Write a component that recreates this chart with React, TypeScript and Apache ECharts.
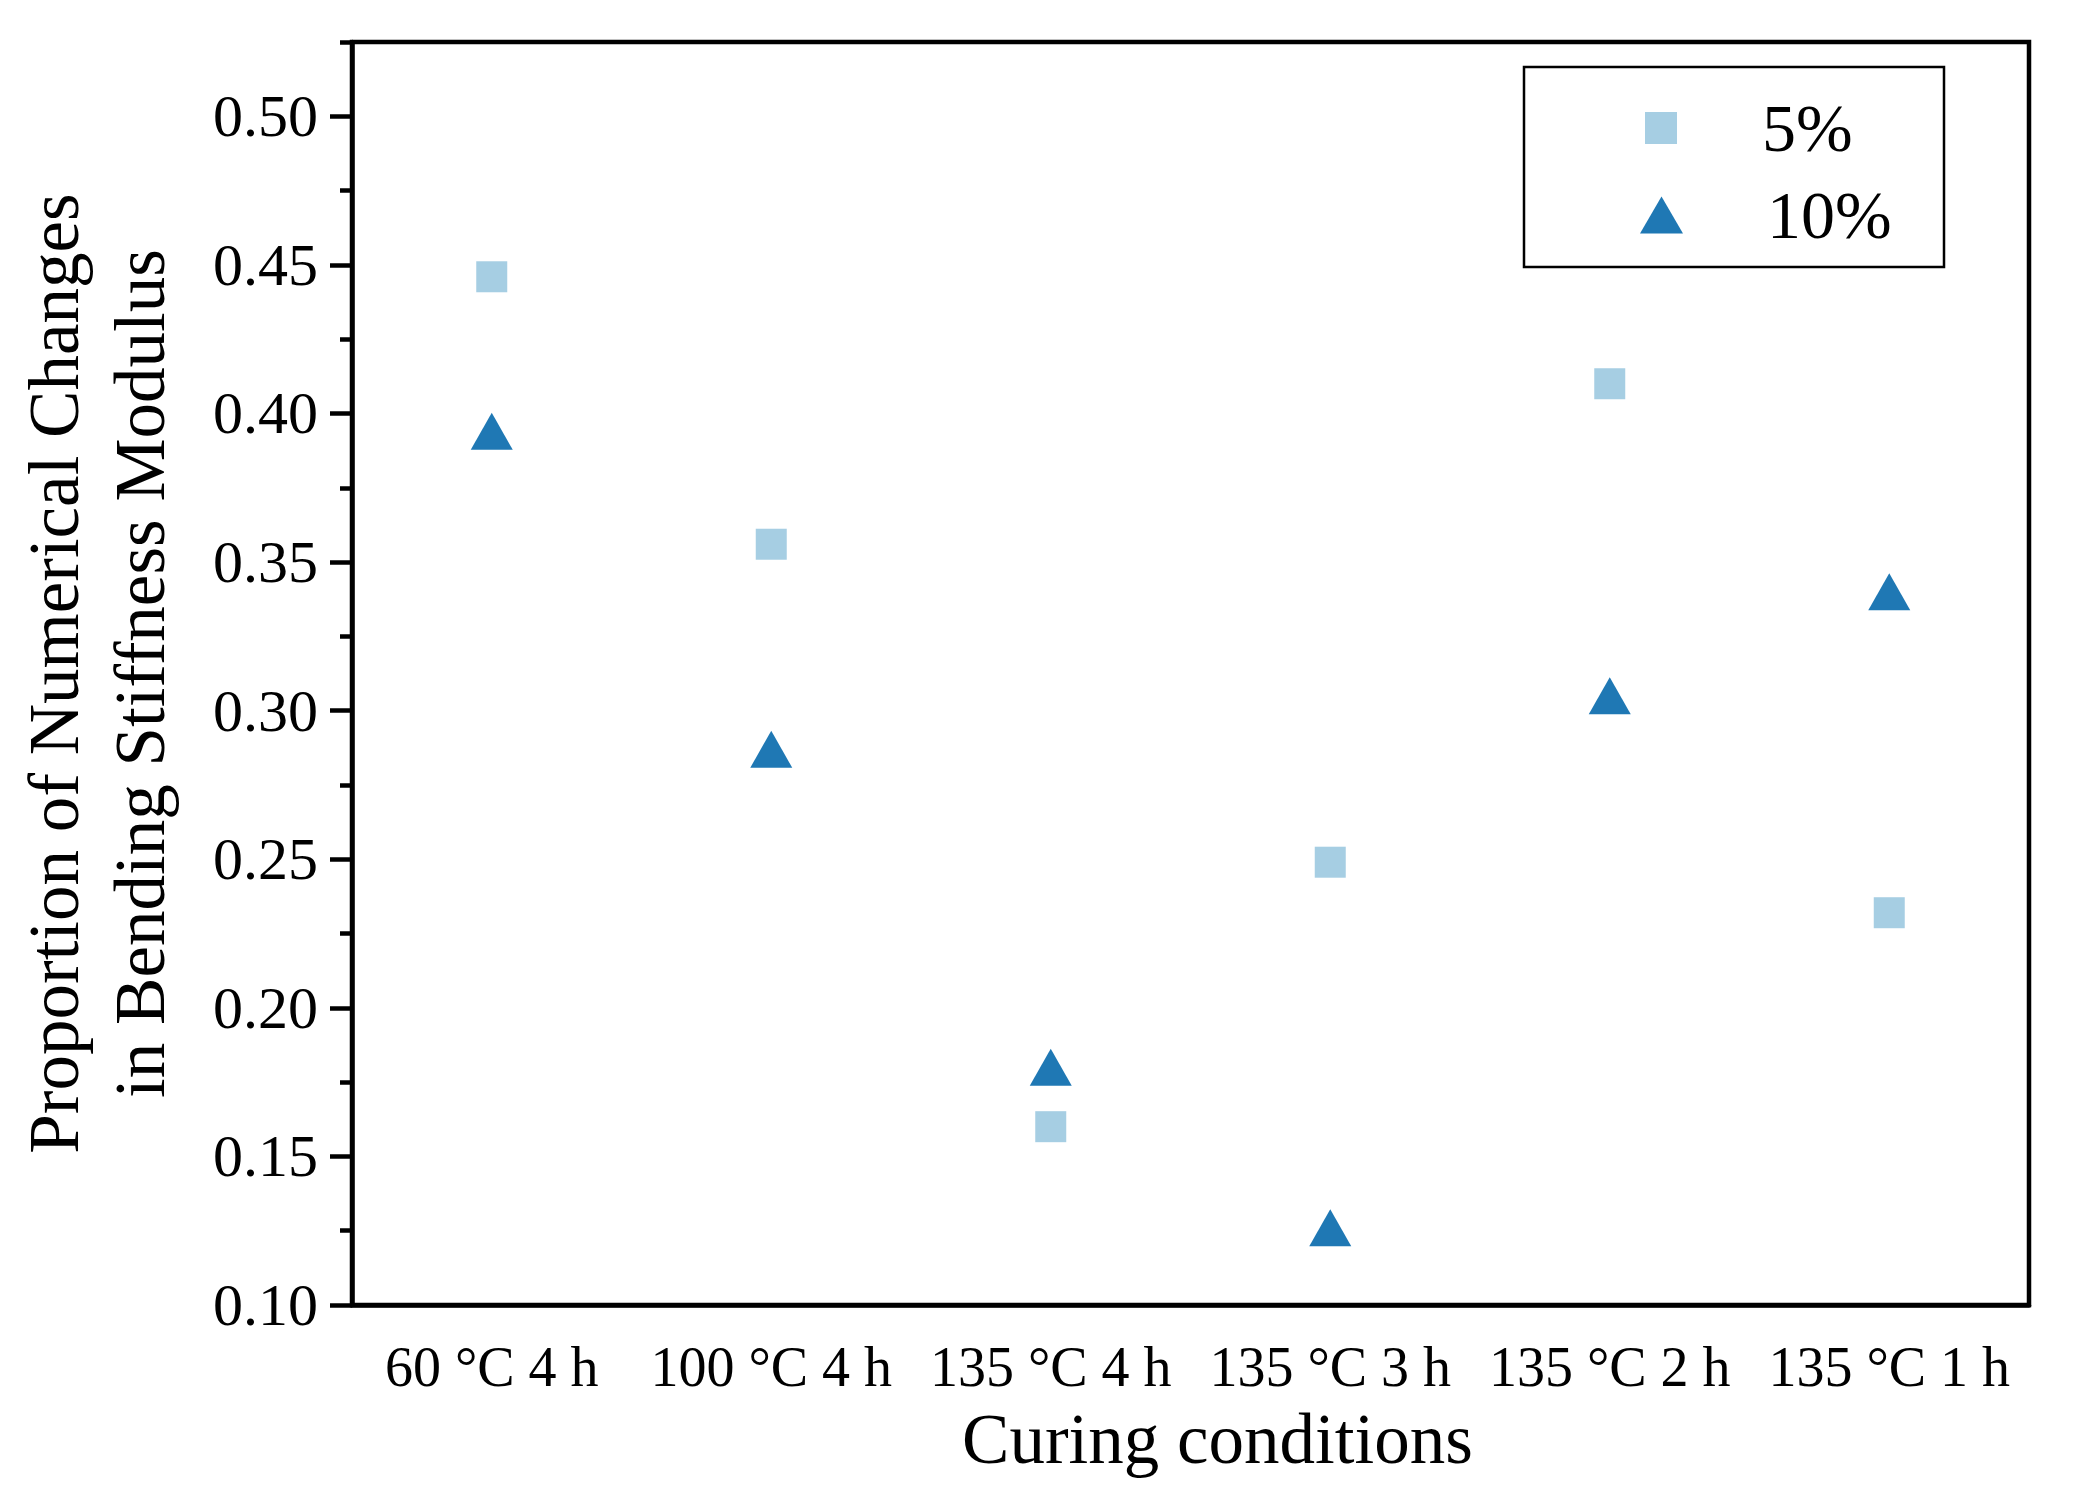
import React, { useEffect, useRef } from "react";
import * as echarts from "echarts";

const categories = ["60 °C 4 h", "100 °C 4 h", "135 °C 4 h", "135 °C 3 h", "135 °C 2 h", "135 °C 1 h"];
const series5 = [0.446, 0.356, 0.16, 0.249, 0.41, 0.232];
const series10 = [0.394, 0.287, 0.18, 0.126, 0.305, 0.34];
const yTicks = [0.1, 0.15, 0.2, 0.25, 0.3, 0.35, 0.4, 0.45, 0.5];
const yMinorTicks = [0.125, 0.175, 0.225, 0.275, 0.325, 0.375, 0.425, 0.475, 0.525];
const seriesNames = ["5%", "10%"];

const FONT = "'Liberation Serif', 'Times New Roman', serif";

export default function App() {
  const ref = useRef<HTMLDivElement>(null);
  useEffect(() => {
    if (!ref.current) return;
    const chart = echarts.init(ref.current, null, { renderer: "svg" });
    const axisColor = "#000";
    const LW = 4.5;
    chart.setOption({
      animation: false,
      backgroundColor: "#fff",
      textStyle: { fontFamily: FONT },
      grid: {
        left: 352,
        right: 46,
        top: 42,
        bottom: 195,
        show: true,
        borderColor: axisColor,
        borderWidth: LW,
        backgroundColor: "transparent",
      },
      legend: [
        {
          data: [{ name: seriesNames[0], icon: "rect" }],
          left: 1645,
          top: 93,
          padding: 0,
          itemWidth: 32,
          itemHeight: 32,
          textStyle: { fontFamily: FONT, fontSize: 68, lineHeight: 70, color: "#000", padding: [0, 0, 0, 80] },
        },
        {
          data: [{ name: seriesNames[1], icon: "triangle" }],
          left: 1640,
          top: 180,
          padding: 0,
          itemWidth: 43,
          itemHeight: 37,
          textStyle: { fontFamily: FONT, fontSize: 68, lineHeight: 70, color: "#000", padding: [0, 0, 0, 79] },
        },
      ],
      graphic: [
        {
          type: "rect",
          shape: { x: 1524, y: 67, width: 420, height: 200 },
          style: { fill: "rgba(0,0,0,0)", stroke: "#000", lineWidth: 2.5 },
          z: 100,
        },
      ],
      xAxis: {
        type: "category",
        data: categories,
        boundaryGap: true,
        name: "Curing conditions",
        nameLocation: "middle",
        nameGap: 98,
        nameTextStyle: { fontFamily: FONT, fontSize: 71, color: "#000", padding: [0, 0, 0, 54] },
        axisLine: { lineStyle: { color: axisColor, width: LW } },
        axisTick: { alignWithLabel: true, length: 20, lineStyle: { color: axisColor, width: LW } },
        axisLabel: { fontFamily: FONT, fontSize: 56, color: "#000", margin: 34, interval: 0 },
        splitLine: { show: false },
      },
      yAxis: [
        {
          type: "value",
          position: "left",
          min: 0.1,
          max: 0.525,
          name: "Proportion of Numerical Changes\nin Bending Stiffness Modulus",
          nameLocation: "middle",
          nameGap: 169,
          nameRotate: 90,
          nameTextStyle: { fontFamily: FONT, fontSize: 71, lineHeight: 86, color: "#000" },
          axisLine: { show: true, lineStyle: { color: axisColor, width: LW } },
          axisTick: { show: true, length: 22, customValues: yTicks, lineStyle: { color: axisColor, width: LW } },
          axisLabel: {
            fontFamily: FONT,
            fontSize: 60,
            color: "#000",
            margin: 34,
            customValues: yTicks,
            formatter: (v: number) => v.toFixed(2),
          },
          splitLine: { show: false },
        },
        {
          type: "value",
          position: "left",
          min: 0.1,
          max: 0.525,
          axisLine: { show: false },
          axisTick: { show: true, length: 12, customValues: yMinorTicks, lineStyle: { color: axisColor, width: LW } },
          axisLabel: { show: false },
          splitLine: { show: false },
        },
      ],
      series: [
        {
          name: seriesNames[0],
          type: "scatter",
          data: series5,
          yAxisIndex: 0,
          symbol: "rect",
          symbolSize: 31,
          itemStyle: { color: "#a6cee3", opacity: 1 },
        },
        {
          name: seriesNames[1],
          type: "scatter",
          data: series10,
          yAxisIndex: 0,
          symbol: "triangle",
          symbolSize: [42, 37],
          itemStyle: { color: "#1f78b4", opacity: 1 },
        },
      ],
    });
    return () => chart.dispose();
  }, []);
  return (
    <div
      ref={ref}
      style={{ position: "fixed", left: 0, top: 0, width: 2075, height: 1500, background: "#fff" }}
    />
  );
}
